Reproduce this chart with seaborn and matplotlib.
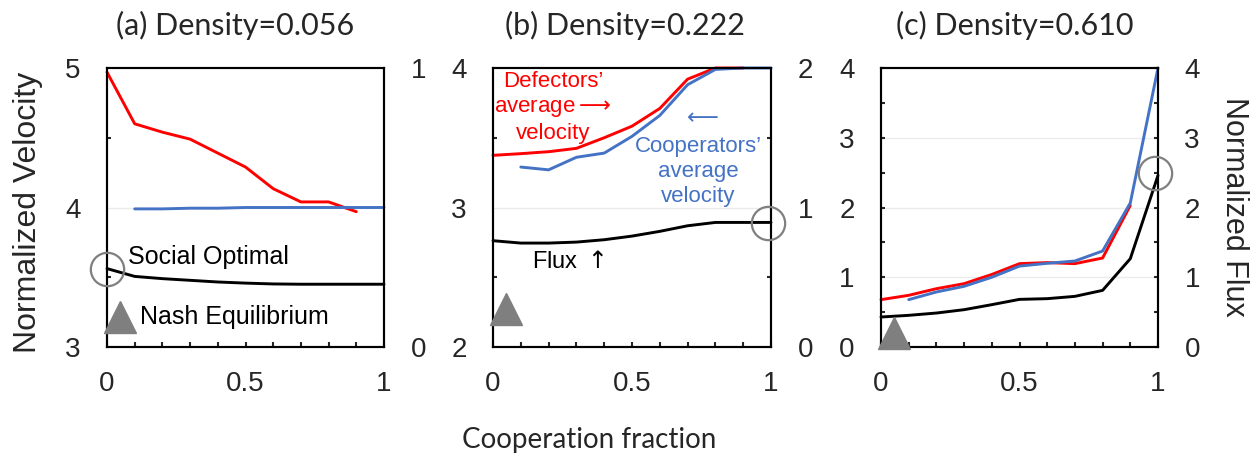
import numpy as np
import pandas as pd
import matplotlib
matplotlib.use("Agg")
import matplotlib.pyplot as plt
from matplotlib.ticker import MultipleLocator
import seaborn as sns

# ---------------- data ----------------
frac = [0.0, 0.1, 0.2, 0.3, 0.4, 0.5, 0.6, 0.7, 0.8, 0.9, 1.0]
frac_def = frac[:-1]      # defectors exist for fraction < 1
frac_coop = frac[1:]      # cooperators exist for fraction > 0

titles = ["(a) Density=0.056", "(b) Density=0.222", "(c) Density=0.610"]

def_a = [4.97, 4.60, 4.54, 4.49, 4.39, 4.29, 4.135, 4.04, 4.04, 3.97]
coop_a = [3.99, 3.99, 3.995, 3.995, 4.0, 4.0, 4.0, 4.0, 4.0, 4.0]
flux_a = [0.281, 0.253, 0.245, 0.239, 0.233, 0.229, 0.226, 0.225, 0.225, 0.225, 0.225]

def_b = [3.374, 3.386, 3.40, 3.424, 3.50, 3.583, 3.71, 3.92, 4.0, 4.0]
coop_b = [3.29, 3.27, 3.36, 3.39, 3.51, 3.66, 3.88, 3.99, 4.0, 4.0]
flux_b = [0.762, 0.745, 0.745, 0.752, 0.769, 0.795, 0.829, 0.869, 0.893, 0.893, 0.893]

def_c = [0.679, 0.741, 0.836, 0.908, 1.04, 1.195, 1.21, 1.195, 1.276, 2.03]
coop_c = [0.679, 0.789, 0.87, 1.0, 1.16, 1.20, 1.233, 1.376, 2.065, 4.0]
flux_c = [0.43, 0.454, 0.487, 0.535, 0.607, 0.683, 0.693, 0.726, 0.812, 1.266, 2.46]

vel_limits = [(3, 5), (2, 4), (0, 4)]
flux_limits = [(0, 1), (0, 2), (0, 4)]

# social optimum (circle) and Nash equilibrium (triangle) per panel
optimum_x = [0.0, 0.99, 0.99]
optimum_flux = [0.281, 0.886, 2.49]
nash_x = [0.048, 0.046, 0.048]
nash_flux = [0.107, 0.272, 0.2]

# ---------------- style ----------------
sns.set_theme(style="white")
plt.rcParams["font.family"] = ["Liberation Sans", "DejaVu Sans"]
plt.rcParams["mathtext.fontset"] = "dejavusans"
plt.rcParams["axes.linewidth"] = 1.5
plt.rcParams["axes.edgecolor"] = "black"

RED = "#FF0000"
BLUE = "#4472C4"
GRAY = "#7F7F7F"
TITLE_FONT = ["Lato", "DejaVu Sans"]

W, H = 1257, 458
fig = plt.figure(figsize=(W / 100, H / 100), dpi=100)

lefts_px = [107, 493, 881]
widths_px = [277, 278, 277]
top_px, bottom_px = 68, 347
title_cx = [235, 625, 1015]

defs = [def_a, def_b, def_c]
coops = [coop_a, coop_b, coop_c]
fluxes = [flux_a, flux_b, flux_c]

for i in range(3):
    ax = fig.add_axes([lefts_px[i] / W, 1 - bottom_px / H,
                       widths_px[i] / W, (bottom_px - top_px) / H])
    ax2 = ax.twinx()

    # grid lines at integer velocity values
    for v in range(int(vel_limits[i][0]) + 1, int(vel_limits[i][1])):
        ax.axhline(v, color="#ebebeb", lw=1.0, zorder=0)

    sns.lineplot(x=frac_def, y=defs[i], ax=ax, color=RED, linewidth=2.1,
                 clip_on=False, zorder=3)
    sns.lineplot(x=frac_coop, y=coops[i], ax=ax, color=BLUE, linewidth=2.1,
                 clip_on=False, zorder=3)
    sns.lineplot(x=frac, y=fluxes[i], ax=ax2, color="black", linewidth=2.1,
                 clip_on=False, zorder=3)

    ax2.plot([optimum_x[i]], [optimum_flux[i]], marker="o", markersize=24,
             markerfacecolor="none", markeredgecolor=GRAY, markeredgewidth=1.6,
             linestyle="none", clip_on=False, zorder=5)
    ax2.plot([nash_x[i]], [nash_flux[i]], marker="^", markersize=23,
             markerfacecolor=GRAY, markeredgecolor=GRAY,
             linestyle="none", clip_on=False, zorder=5)

    ax.set_xlim(0, 1)
    ax.set_ylim(*vel_limits[i])
    ax2.set_ylim(*flux_limits[i])
    ax.set_xlabel("")
    ax.set_ylabel("")
    ax2.set_ylabel("")

    ax.set_xticks([0, 0.5, 1])
    ax.set_xticklabels(["0", "0.5", "1"])
    ax.xaxis.set_minor_locator(MultipleLocator(0.1))
    vt = np.arange(vel_limits[i][0], vel_limits[i][1] + 0.01, 1)
    ax.set_yticks(vt)
    ax.set_yticklabels([f"{v:g}" for v in vt])
    ax.yaxis.set_minor_locator(MultipleLocator(0.5))
    ft = np.arange(flux_limits[i][0], flux_limits[i][1] + 0.01, 1)
    ax2.set_yticks(ft)
    ax2.set_yticklabels([f"{v:g}" for v in ft])
    ax2.yaxis.set_minor_locator(MultipleLocator(0.5))

    major_len = 3 if i == 2 else 0
    ax.tick_params(axis="x", which="both", direction="in", length=3.5, width=1.5,
                   labelsize=20, pad=17, bottom=True, top=False)
    ax.tick_params(axis="y", which="major", direction="in", length=major_len,
                   width=1.5, labelsize=20, pad=19, left=True, right=False)
    ax.tick_params(axis="y", which="minor", direction="in", length=3, width=1.5,
                   left=True, right=False)
    ax2.tick_params(axis="y", which="major", direction="in", length=major_len,
                    width=1.5, labelsize=20, pad=19)
    ax2.tick_params(axis="y", which="minor", direction="in",
                    length=(0 if i == 0 else 3), width=1.5)
    for a in (ax, ax2):
        for s in a.spines.values():
            s.set_linewidth(1.5)
            s.set_color("black")
            s.set_zorder(2)

    fig.text(title_cx[i] / W, 1 - 25 / H, titles[i], ha="center", va="center",
             fontsize=22, family=TITLE_FONT)

    if i == 0:
        ax.text(0.076, 0.323, "Social Optimal", transform=ax.transAxes,
                fontsize=18, ha="left", va="center", color="black")
        ax.text(0.119, 0.108, "Nash Equilibrium", transform=ax.transAxes,
                fontsize=18, ha="left", va="center", color="black")
    if i == 1:
        ax.text(0.216, 0.857, "Defectors\u2019\naverage$\\longrightarrow$\nvelocity",
                transform=ax.transAxes, fontsize=16, ha="center", va="center",
                color=RED, linespacing=1.25, zorder=6)
        ax.text(0.745, 0.825, "$\\longleftarrow$", transform=ax.transAxes, fontsize=16,
                ha="center", va="center", color=BLUE, zorder=6)
        ax.text(0.737, 0.629, "Cooperators\u2019\naverage\nvelocity",
                transform=ax.transAxes, fontsize=16, ha="center", va="center",
                color=BLUE, linespacing=1.25, zorder=6)
        ax.text(0.14, 0.304, "Flux $\\uparrow$", transform=ax.transAxes,
                fontsize=17, ha="left", va="center", color="black", zorder=6)

fig.text(28 / W, 1 - 212 / H, "Normalized Velocity", rotation=90,
         ha="center", va="center", fontsize=23)
fig.text(1234 / W, 1 - 207 / H, "Normalized Flux", rotation=270,
         ha="center", va="center", fontsize=22)
fig.text(589 / W, 1 - 440 / H, "Cooperation fraction", ha="center",
         va="center", fontsize=20, family=TITLE_FONT)

fig.savefig("out.png", dpi=100, facecolor="white")
